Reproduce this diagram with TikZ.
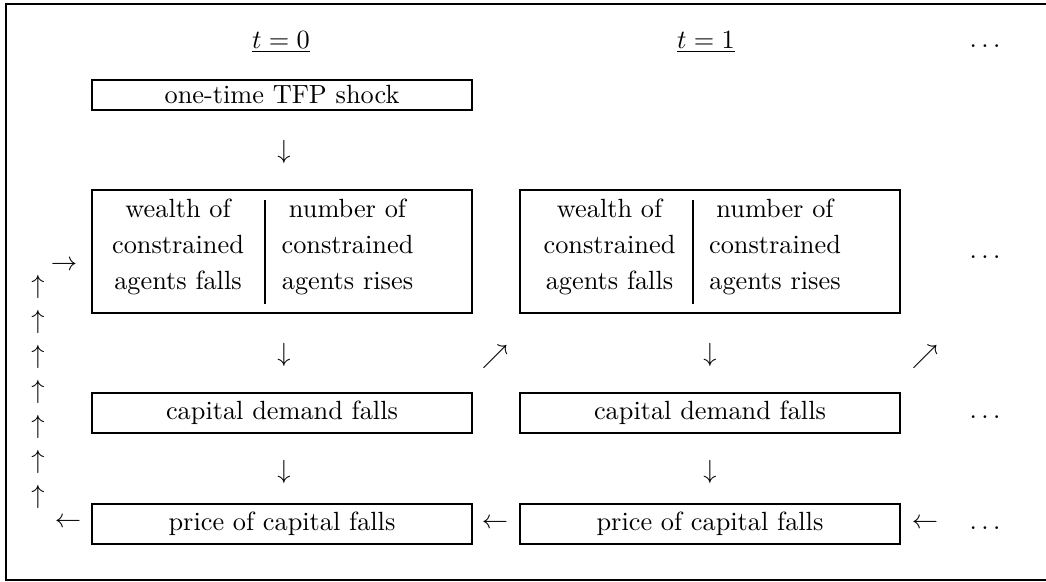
\documentclass[tikz,border=0pt]{standalone}
\begin{document}
\begin{tikzpicture}[x=0.38pt,y=-0.38pt,
  frame/.style={line width=0.45pt},
  box/.style={draw, line width=0.4pt, inner sep=0pt, minimum width=144.4pt, align=center},
  onebox/.style={box, minimum height=11.4pt},
  bigbox/.style={box, minimum height=46.74pt},
  smallbox/.style={box, minimum height=15.2pt},
  wtext/.style={inner sep=0pt, align=center, font=\fontsize{10}{13.7}\selectfont},
  glyph/.style={inner sep=0pt},
  dots/.style={inner sep=0pt, anchor=base}]
\useasboundingbox (0,0) rectangle (1046,581);
\draw[frame] (1046,4) -- (6,4) -- (6,580) -- (1046,580);
% headers
\node[dots] (h0) at (281,48) {$\underline{t=0}$};
\node[dots] (h1) at (706,48) {$\underline{t=1}$};
\node[dots] (hd) at (985,47) {$\dots$};
% boxes
\node[onebox] (b1) at (282,95) {one-time TFP shock};
\node[bigbox] (w0) at (282,251.5) {};
\node[bigbox] (w1) at (710,251.5) {};
\node[smallbox] (c0) at (282,413) {capital demand falls};
\node[smallbox] (c1) at (710,413) {capital demand falls};
\node[smallbox] (p0) at (282,524) {price of capital falls};
\node[smallbox] (p1) at (710,524) {price of capital falls};
% wealth box contents
\node[wtext] (w0l) at (178,246.5) {wealth of\\constrained\\agents falls};
\node[wtext] (w0r) at (347.5,246.5) {number of\\constrained\\agents rises};
\node[wtext] (w1l) at (609.5,246.5) {wealth of\\constrained\\agents falls};
\node[wtext] (w1r) at (775,246.5) {number of\\constrained\\agents rises};
\draw[line width=0.4pt] (265,200) -- (265,304);
\draw[line width=0.4pt] (693,200) -- (693,304);
% arrow glyphs
\node[glyph] (d1) at (284,152) {$\downarrow$};
\node[glyph] (d2) at (284,355) {$\downarrow$};
\node[glyph] (d3) at (284,472) {$\downarrow$};
\node[glyph] (d4) at (710,355) {$\downarrow$};
\node[glyph] (d5) at (710,472) {$\downarrow$};
\node[glyph] (ne1) at (495,357) {$\nearrow$};
\node[glyph] (ne2) at (925,357) {$\nearrow$};
\node[glyph] (l1) at (495,524) {$\leftarrow$};
\node[glyph] (l2) at (925,524) {$\leftarrow$};
\node[glyph] (l0) at (68,523) {$\leftarrow$};
\node[glyph] (r0) at (64,266) {$\rightarrow$};
\foreach \i/\y in {1/287,2/322,3/357,4/392,5/427,6/462,7/497}
  \node[glyph] (u\i) at (38,\y) {$\uparrow$};
% dots
\node[dots] (md) at (985,258) {$\dots$};
\node[dots] (cd) at (985,418) {$\dots$};
\node[dots] (pd) at (985,529) {$\dots$};
\end{tikzpicture}
\end{document}
